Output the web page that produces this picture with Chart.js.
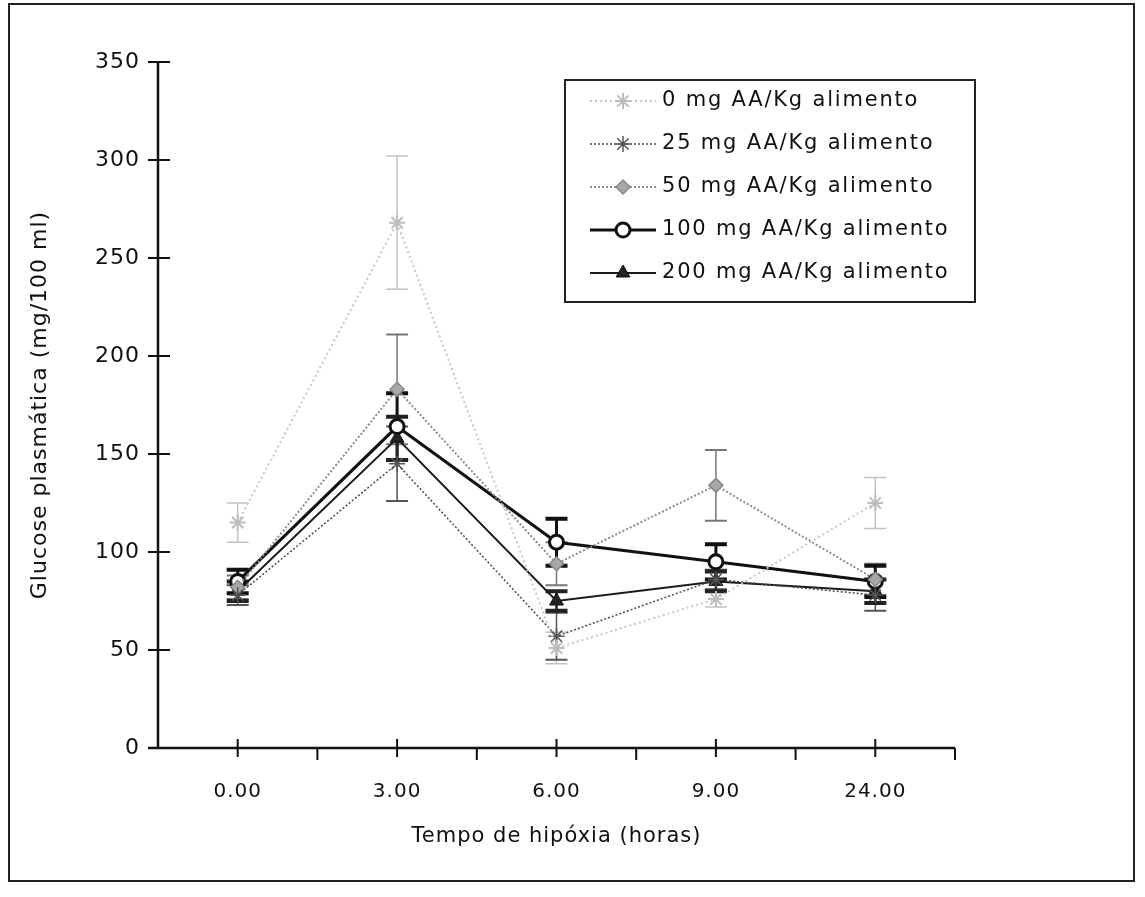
<!DOCTYPE html>
<html>
<head>
<meta charset="utf-8">
<title>Glucose plasmática</title>
<script src="https://cdn.jsdelivr.net/npm/chart.js@4.4.1/dist/chart.umd.min.js"></script>
<style>
    body { margin: 0; background: #fff; }
    #wrap { position: relative; width: 1145px; height: 897px; }
    #frame { position: absolute; left: 8px; top: 3px; width: 1123px; height: 875px; border: 2px solid #222; pointer-events: none; }
</style>
</head>
<body>
<div id="wrap">
    <canvas id="glucoseChart" width="1145" height="897"></canvas>
    <div id="frame"></div>
</div>
<script>
// Sampling times (hours of hypoxia)
const hours = ['0.00', '3.00', '6.00', '9.00', '24.00'];
const yTicks = [0, 50, 100, 150, 200, 250, 300, 350];

// Plasma glucose (mg/100 ml), mean and error per diet
const glucose0 = [115, 268, 51, 76, 125];
const err0 = [10, 34, 8, 4, 13];
const glucose25 = [78, 145, 57, 86, 78];
const err25 = [5, 19, 12, 5, 8];
const glucose50 = [82, 183, 94, 134, 86];
const err50 = [6, 28, 11, 18, 8];
const glucose100 = [85, 164, 105, 95, 85];
const err100 = [6, 17, 12, 9, 8];
const glucose200 = [80, 158, 75, 85, 80];
const err200 = [5, 11, 5, 5, 6];

const seriesLabels = [
    '0 mg AA/Kg alimento',
    '25 mg AA/Kg alimento',
    '50 mg AA/Kg alimento',
    '100 mg AA/Kg alimento',
    '200 mg AA/Kg alimento'
];

const FONT = '"DejaVu Sans", Verdana, sans-serif';

function makeSeries(label, data, errors, style) {
    return Object.assign({
        label: label,
        data: data,
        errors: errors,
        fill: false,
        tension: 0
    }, style);
}

const datasets = [
    makeSeries(seriesLabels[0], glucose0, err0, {
        borderColor: '#c6c6c6', borderWidth: 2, borderDash: [2, 3],
        pointStyle: 'star', pointRadius: 8, pointBorderWidth: 2,
        pointBorderColor: '#bdbdbd', pointBackgroundColor: '#e4e4e4',
        errColor: '#c2c2c2', errWidth: 1.5, capWidth: 1.5
    }),
    makeSeries(seriesLabels[1], glucose25, err25, {
        borderColor: '#4a4a4a', borderWidth: 1.5, borderDash: [2, 2],
        pointStyle: 'star', pointRadius: 8, pointBorderWidth: 1.5,
        pointBorderColor: '#555', pointBackgroundColor: '#fff',
        errColor: '#555', errWidth: 1.5, capWidth: 2
    }),
    makeSeries(seriesLabels[2], glucose50, err50, {
        borderColor: '#8c8c8c', borderWidth: 2, borderDash: [2, 2],
        pointStyle: 'rectRot', pointRadius: 7, pointBorderWidth: 1.5,
        pointBorderColor: '#888', pointBackgroundColor: '#a8a8a8',
        errColor: '#777', errWidth: 1.5, capWidth: 2
    }),
    makeSeries(seriesLabels[3], glucose100, err100, {
        borderColor: '#111', borderWidth: 3,
        pointStyle: 'circle', pointRadius: 7, pointBorderWidth: 3,
        pointBorderColor: '#111', pointBackgroundColor: '#fff',
        errColor: '#111', errWidth: 3, capWidth: 4
    }),
    makeSeries(seriesLabels[4], glucose200, err200, {
        borderColor: '#1a1a1a', borderWidth: 2,
        pointStyle: 'triangle', pointRadius: 8, pointBorderWidth: 1,
        pointBorderColor: '#111', pointBackgroundColor: '#222',
        errColor: '#222', errWidth: 2.5, capWidth: 4
    })
];

// Slightly wider letter spacing for all chart text
const spacedText = {
    id: 'spacedText',
    beforeDraw(chart) {
        chart.ctx.letterSpacing = '1px';
    }
};

// Vertical error bars with caps, drawn under the markers
const errorBars = {
    id: 'errorBars',
    beforeDatasetsDraw(chart) {
        const ctx = chart.ctx;
        const y = chart.scales.y;
        chart.data.datasets.forEach((ds, i) => {
            const meta = chart.getDatasetMeta(i);
            ctx.save();
            ctx.strokeStyle = ds.errColor;
            meta.data.forEach((pt, j) => {
                const top = y.getPixelForValue(ds.data[j] + ds.errors[j]);
                const bot = y.getPixelForValue(ds.data[j] - ds.errors[j]);
                ctx.lineWidth = ds.errWidth;
                ctx.beginPath();
                ctx.moveTo(pt.x, top);
                ctx.lineTo(pt.x, bot);
                ctx.stroke();
                ctx.lineWidth = ds.capWidth;
                ctx.beginPath();
                ctx.moveTo(pt.x - 11, top);
                ctx.lineTo(pt.x + 11, top);
                ctx.moveTo(pt.x - 11, bot);
                ctx.lineTo(pt.x + 11, bot);
                ctx.stroke();
            });
            ctx.restore();
        });
    }
};

// Plain axis lines with crossing tick marks
const axisLines = {
    id: 'axisLines',
    afterDraw(chart) {
        const ctx = chart.ctx;
        const { left, right, top, bottom } = chart.chartArea;
        const x = chart.scales.x;
        const y = chart.scales.y;
        ctx.save();
        ctx.strokeStyle = '#111';
        ctx.lineWidth = 2.5;
        ctx.beginPath();
        ctx.moveTo(left, top);
        ctx.lineTo(left, bottom);
        ctx.moveTo(left - 10, bottom);
        ctx.lineTo(right, bottom);
        ctx.stroke();

        ctx.lineWidth = 2;
        ctx.beginPath();
        yTicks.forEach(v => {
            const py = y.getPixelForValue(v);
            ctx.moveTo(left - 10, py);
            ctx.lineTo(left + 12, py);
        });
        hours.forEach((h, i) => {
            const px = x.getPixelForValue(i);
            ctx.moveTo(px, bottom - 9);
            ctx.lineTo(px, bottom + 9);
            const bx = x.getPixelForValue(i + 0.5);
            ctx.moveTo(bx, bottom);
            ctx.lineTo(bx, bottom + 12);
        });
        ctx.stroke();
        ctx.restore();
    }
};

// Boxed legend in the upper right of the plot
const boxLegend = {
    id: 'boxLegend',
    afterDraw(chart) {
        const ctx = chart.ctx;
        const box = { x: 565, y: 80, w: 410, h: 222 };
        ctx.save();
        ctx.fillStyle = '#fff';
        ctx.fillRect(box.x, box.y, box.w, box.h);
        ctx.strokeStyle = '#222';
        ctx.lineWidth = 2;
        ctx.strokeRect(box.x, box.y, box.w, box.h);

        ctx.font = '21px ' + FONT;
        ctx.letterSpacing = '1.8px';
        ctx.textBaseline = 'middle';
        chart.data.datasets.forEach((ds, i) => {
            const ry = 101 + i * 43;
            ctx.strokeStyle = ds.borderColor;
            ctx.lineWidth = ds.borderWidth;
            ctx.setLineDash(ds.borderDash || []);
            ctx.beginPath();
            ctx.moveTo(590, ry);
            ctx.lineTo(656, ry);
            ctx.stroke();
            ctx.setLineDash([]);
            ctx.fillStyle = ds.pointBackgroundColor;
            ctx.strokeStyle = ds.pointBorderColor;
            ctx.lineWidth = ds.pointBorderWidth;
            Chart.helpers.drawPoint(ctx, {
                pointStyle: ds.pointStyle,
                radius: ds.pointRadius,
                borderWidth: ds.pointBorderWidth,
                rotation: 0
            }, 623, ry);
            ctx.fillStyle = '#111';
            ctx.fillText(ds.label, 662, ry);
        });
        ctx.restore();
    }
};

new Chart(document.getElementById('glucoseChart'), {
    type: 'line',
    data: { labels: hours, datasets: datasets },
    plugins: [spacedText, errorBars, axisLines, boxLegend],
    options: {
        responsive: false,
        animation: false,
        layout: { padding: { top: 62, right: 190, bottom: 0, left: 0 } },
        plugins: {
            legend: { display: false },
            tooltip: { enabled: false }
        },
        scales: {
            x: {
                type: 'category',
                offset: true,
                grid: { display: false, drawTicks: false },
                border: { display: false },
                ticks: { color: '#111', padding: 32, font: { family: FONT, size: 20 } },
                title: {
                    display: true,
                    text: 'Tempo de hipóxia (horas)',
                    color: '#111',
                    font: { family: FONT, size: 21 },
                    padding: { top: 0, bottom: 48 }
                },
                afterFit(scale) { scale.height = 149; }
            },
            y: {
                min: 0,
                max: 350,
                grid: { display: false, drawTicks: false },
                border: { display: false },
                afterBuildTicks(scale) { scale.ticks = yTicks.map(v => ({ value: v })); },
                ticks: { color: '#111', padding: 18, font: { family: FONT, size: 22 } },
                title: {
                    display: true,
                    text: 'Glucose plasmática (mg/100 ml)',
                    color: '#111',
                    font: { family: FONT, size: 22 },
                    padding: { top: 27, bottom: 0 }
                },
                afterFit(scale) { scale.width = 158; }
            }
        }
    }
});
</script>
</body>
</html>
